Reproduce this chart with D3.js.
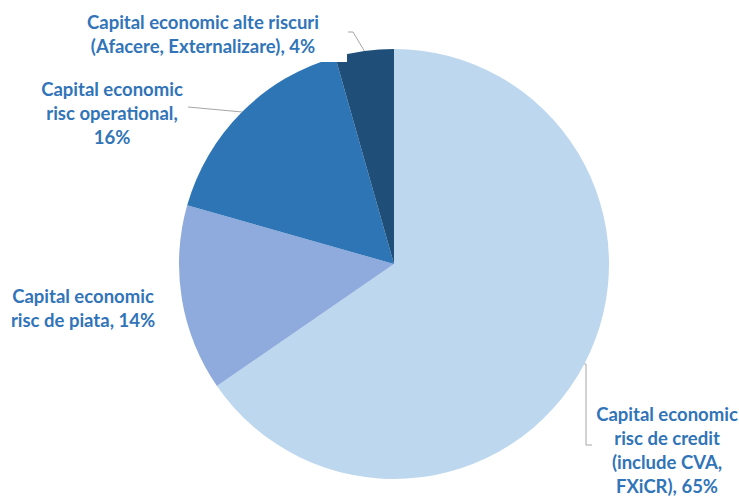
<!DOCTYPE html>
<html>
<head>
<meta charset="utf-8">
<script src="https://cdn.jsdelivr.net/npm/d3@7"></script>
<style>
  body { margin: 0; background: #fff; }
  svg text { font-family: Lato, 'Open Sans', sans-serif; font-weight: bold; }
</style>
</head>
<body>
<div id="chart"></div>
<script>
// Data
const categories = [
  'Capital economic risc de credit (include CVA, FXiCR)',
  'Capital economic risc de piata',
  'Capital economic risc operational',
  'Capital economic alte riscuri (Afacere, Externalizare)'
];
const values = [65.4, 14.0, 16.2, 4.4];
const labelLines = [
  ['Capital economic', 'risc de credit', '(include CVA,', 'FXiCR), {p}'],
  ['Capital economic', 'risc de piata, {p}'],
  ['Capital economic', 'risc operational,', '{p}'],
  ['Capital economic alte riscuri', '(Afacere, Externalizare), {p}']
];
const colors = ['#BDD7EE', '#8FAADC', '#2E75B6', '#1F4E79'];

const width = 739;
const height = 497;
const cx = 394;
const cy = 264;
const radius = 215;
const fontSize = 18.5;
const lineHeight = 24;
const textColor = '#3174B8';
const leaderColor = '#A6A6A6';

// Label layout: centre x and first-line y, plus leader elbow points
const labelLayout = [
  { x: 667, y: 415, leader: [[586, 364], [586, 445], [592, 445]] },
  { x: 83, y: 297, leader: null },
  { x: 112, y: 90, leader: [[188, 107]] },
  { x: 203, y: 23, leader: [[353, 32], [348, 32]], box: [85, 4, 262, 58] }
];

const svg = d3.select('#chart')
  .append('svg')
  .attr('width', width)
  .attr('height', height);

const g = svg.append('g')
  .attr('transform', 'translate(' + cx + ',' + cy + ')');

const pie = d3.pie().sort(null).value((d) => d);
const arcs = pie(values);
const arc = d3.arc().innerRadius(0).outerRadius(radius);
const total = d3.sum(values);

g.selectAll('.slice')
  .data(arcs)
  .enter()
  .append('path')
  .attr('class', 'slice')
  .attr('d', arc)
  .attr('fill', (d, i) => colors[i]);

// Labels, boxes and leader lines
arcs.forEach((d, i) => {
  const lay = labelLayout[i];
  const pct = Math.round(d.data / total * 100) + '%';

  if (lay.box) {
    svg.append('rect')
      .attr('x', lay.box[0])
      .attr('y', lay.box[1])
      .attr('width', lay.box[2])
      .attr('height', lay.box[3])
      .attr('fill', '#fff');
  }

  if (lay.leader) {
    const mid = (d.startAngle + d.endAngle) / 2;
    const edge = [cx + radius * Math.sin(mid), cy - radius * Math.cos(mid)];
    const pts = [edge].concat(lay.leader);
    svg.append('path')
      .attr('d', d3.line()(pts))
      .attr('fill', 'none')
      .attr('stroke', leaderColor)
      .attr('stroke-width', 1);
  }

  const text = svg.append('text')
    .attr('text-anchor', 'middle')
    .attr('fill', textColor)
    .style('font-size', fontSize + 'px');

  labelLines[i].forEach((line, j) => {
    text.append('tspan')
      .attr('x', lay.x)
      .attr('y', lay.y + j * lineHeight)
      .attr('dy', '0.35em')
      .text(line.replace('{p}', pct));
  });
});
</script>
</body>
</html>
